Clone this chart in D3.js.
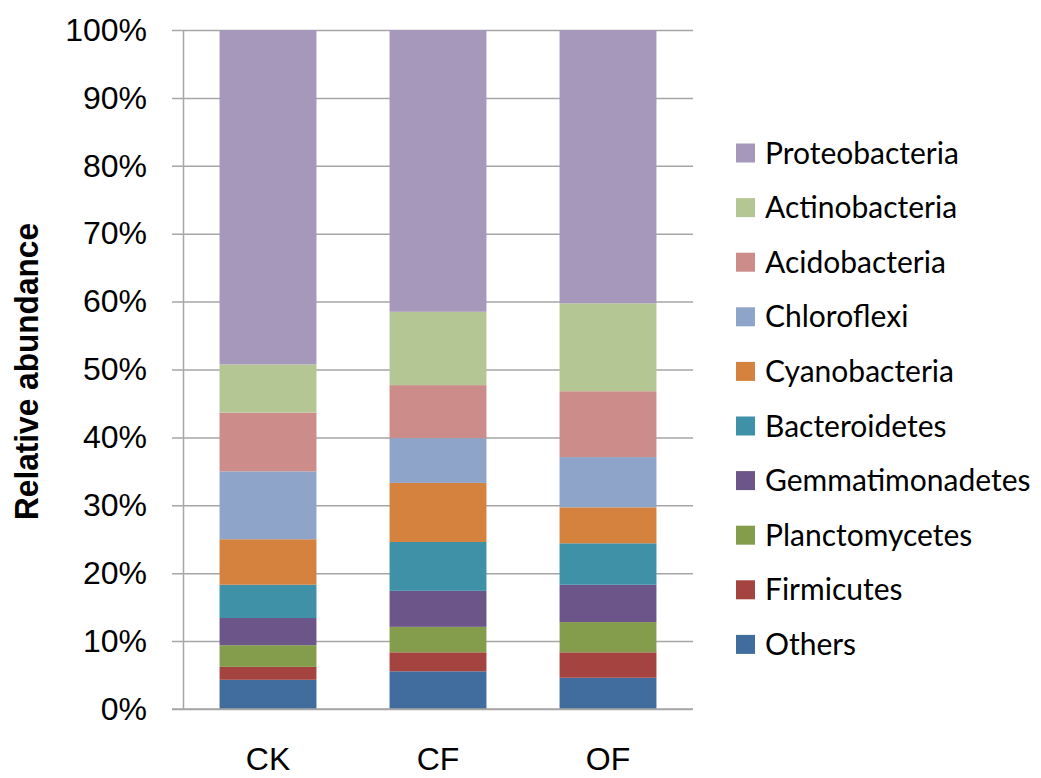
<!DOCTYPE html>
<html>
<head>
<meta charset="utf-8">
<script src="https://cdn.jsdelivr.net/npm/d3@7"></script>
<style>
  body { margin: 0; background: #fff; }
  svg { display: block; }
</style>
</head>
<body>
<div id="chart"></div>
<script>
// samples on the x axis
const groups = ['CK', 'CF', 'OF'];

// phyla, bottom of the stack first
const phyla = ['Others', 'Firmicutes', 'Planctomycetes', 'Gemmatimonadetes', 'Bacteroidetes',
  'Cyanobacteria', 'Chloroflexi', 'Acidobacteria', 'Actinobacteria', 'Proteobacteria'];

// relative abundance (%) per phylum, one value per group (CK, CF, OF)
const others           = [4.3, 5.55, 4.6];
const firmicutes       = [1.9, 2.8, 3.75];
const planctomycetes   = [3.2, 3.75, 4.45];
const gemmatimonadetes = [4.0, 5.3, 5.5];
const bacteroidetes    = [4.9, 7.2, 6.1];
const cyanobacteria    = [6.7, 8.7, 5.3];
const chloroflexi      = [10.0, 6.6, 7.4];
const acidobacteria    = [8.65, 7.8, 9.7];
const actinobacteria   = [7.1, 10.8, 12.95];
const proteobacteria   = [49.25, 41.5, 40.25];

const yTicks = [0, 10, 20, 30, 40, 50, 60, 70, 80, 90, 100];

const colors = ['#416c9e', '#a4433f', '#849d4c', '#6c5689', '#3f91a8',
  '#d5823f', '#8ea4c8', '#cb8c8a', '#b4c694', '#a598ba'];

const seriesValues = [others, firmicutes, planctomycetes, gemmatimonadetes, bacteroidetes,
  cyanobacteria, chloroflexi, acidobacteria, actinobacteria, proteobacteria];

const rows = groups.map((g, i) => {
  const row = { group: g };
  phyla.forEach((p, j) => { row[p] = seriesValues[j][i]; });
  return row;
});

const width = 1041, height = 778;
const plot = { left: 183, right: 693, top: 30, bottom: 709 };

const svg = d3.select('#chart').append('svg')
  .attr('width', width)
  .attr('height', height);

const x = d3.scaleBand()
  .domain(groups)
  .range([plot.left, plot.right])
  .paddingInner(0.43)
  .paddingOuter(0.215);

const y = d3.scaleLinear()
  .domain([0, 100])
  .range([plot.bottom, plot.top]);

const color = d3.scaleOrdinal().domain(phyla).range(colors);

// grid lines + y axis
const yAxis = d3.axisLeft(y)
  .tickValues(yTicks)
  .tickFormat(d => d + '%')
  .tickSizeInner(-(plot.right - plot.left))
  .tickSizeOuter(0)
  .tickPadding(36);

const yg = svg.append('g')
  .attr('transform', 'translate(' + plot.left + ',0)')
  .call(yAxis);
yg.select('.domain').attr('stroke', '#a6a6a6').attr('stroke-width', 1.5);
yg.selectAll('.tick line')
  .attr('x1', -11)
  .attr('stroke', '#a6a6a6')
  .attr('stroke-width', 1.5);
yg.selectAll('.tick text')
  .attr('fill', '#000')
  .style('font-family', 'Liberation Sans, Arial, sans-serif')
  .style('font-size', '32px');

// stacked bars
const stack = d3.stack().keys(phyla);
const layers = stack(rows);

svg.append('g').selectAll('g')
  .data(layers)
  .join('g')
    .attr('fill', d => color(d.key))
  .selectAll('rect')
  .data(d => d)
  .join('rect')
    .attr('x', d => x(d.data.group))
    .attr('y', d => y(d[1]))
    .attr('width', x.bandwidth())
    .attr('height', d => y(d[0]) - y(d[1]));

// x axis
const xAxis = d3.axisBottom(x).tickSize(0).tickPadding(38);
const xg = svg.append('g')
  .attr('transform', 'translate(0,' + plot.bottom + ')')
  .call(xAxis);
xg.select('.domain')
  .attr('d', 'M' + (plot.left - 11) + ',0H' + plot.right)
  .attr('stroke', '#a6a6a6')
  .attr('stroke-width', 1.5);
xg.selectAll('.tick text')
  .attr('fill', '#000')
  .style('font-family', 'Liberation Sans, Arial, sans-serif')
  .style('font-size', '32px');

// y axis title
svg.append('text')
  .text('Relative abundance')
  .attr('transform', 'translate(38,' + ((223 + 520) / 2) + ') rotate(-90)')
  .attr('text-anchor', 'middle')
  .attr('textLength', 297)
  .attr('lengthAdjust', 'spacingAndGlyphs')
  .style('font-family', 'Liberation Sans, Arial, sans-serif')
  .style('font-weight', 'bold')
  .style('font-size', '33px');

// legend, top entry is the top of the stack
const legendItems = phyla.slice().reverse();
const legend = svg.append('g')
  .attr('transform', 'translate(736,153)');

const item = legend.selectAll('g')
  .data(legendItems)
  .join('g')
    .attr('transform', (d, i) => 'translate(0,' + (i * 54.6) + ')');

item.append('rect')
  .attr('x', 0)
  .attr('y', -9.5)
  .attr('width', 19)
  .attr('height', 19)
  .attr('fill', d => color(d));

item.append('text')
  .attr('x', 29)
  .attr('y', 0)
  .attr('dy', '0.35em')
  .text(d => d)
  .style('font-family', 'Lato, Carlito, Calibri, sans-serif')
  .style('font-size', '30px')
  .attr('fill', '#000');
</script>
</body>
</html>
